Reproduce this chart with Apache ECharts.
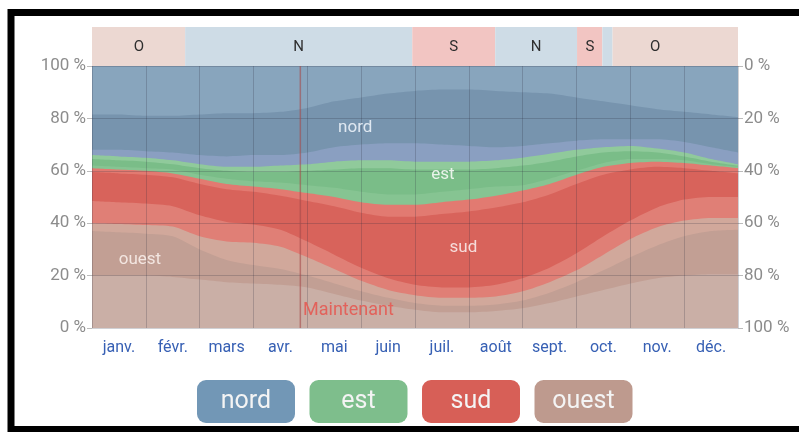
<!DOCTYPE html>
<html lang="fr">
<head>
<meta charset="utf-8">
<title>Direction du vent</title>
<script src="https://cdn.jsdelivr.net/npm/echarts@6/dist/echarts.min.js"></script>
<style>
  html, body { margin: 0; padding: 0; background: #fff; overflow: hidden; }
  #chart { width: 799px; height: 432px; }
</style>
</head>
<body>
<div id="chart"></div>
<script>
// libellés des mois
const months = ['janv.', 'févr.', 'mars', 'avr.', 'mai', 'juin', 'juil.', 'août', 'sept.', 'oct.', 'nov.', 'déc.']

// positions des points lus (en mois depuis le 1er janvier)
const pts = [0, 0.5, 1, 1.5, 2, 2.5, 3, 3.5, 4, 4.5, 5, 5.5, 6, 6.5, 7, 7.5, 8, 8.5, 9, 9.5, 10, 10.5, 11, 11.5, 12]

// limites cumulées (%) — du haut vers le bas
const nordCore  = [81.5, 81.5, 81, 81, 81.5, 82, 82, 82.5, 84, 86.5, 88, 89.5, 90.5, 91, 91, 90.5, 90, 89.5, 88, 86.5, 85, 83.5, 82.5, 81.5, 80.5]
const nordLow   = [68, 68, 67.5, 67, 66, 65.5, 66, 66, 67, 69, 70, 70.5, 70.5, 70, 69.5, 69, 69.5, 70.5, 71.5, 72, 72, 72, 71, 69, 67]
const estTop    = [66, 65.5, 65, 64, 62.5, 61.5, 61.5, 62, 62.5, 63.5, 64, 64, 63.5, 63.5, 63.5, 64, 65, 66.5, 68, 69, 69.5, 68.5, 67, 64.5, 62.5]
const estCore   = [64.5, 64, 63.5, 62.5, 61, 60, 59.5, 59.5, 60, 60.5, 61, 61, 60.5, 60.5, 60.5, 61, 62, 63.5, 65.5, 67, 67.5, 67, 65.5, 63.5, 62]
const estLow    = [62, 61.5, 61, 60.5, 58.5, 57, 56, 55.5, 54.5, 53.5, 52, 51, 51, 52, 53, 54, 54.5, 57, 60, 63, 64.5, 64.5, 64, 62.5, 61.5]
const sudTop    = [61, 60.5, 60, 59, 57, 55, 54, 53, 51.5, 50, 48, 47, 47, 48, 49, 50.5, 52.5, 55, 58.5, 61.5, 63, 63.5, 63, 62, 61]
const sudCore   = [59.5, 59, 58.5, 57.5, 55, 53, 52, 50.5, 48.5, 46.5, 44, 42.5, 42.5, 43.5, 44.5, 46, 48, 51, 55, 58.5, 60.5, 61.5, 61, 60, 59]
const sudLow    = [48.5, 48, 47.5, 46.5, 43, 40.5, 39.5, 37.5, 33, 28, 23, 19, 16.5, 15.5, 15.5, 16.5, 19, 23, 28.5, 35, 41, 46, 49, 50, 50]
const ouestTop  = [40, 39.7, 39.3, 38.7, 35, 33, 32.5, 31, 27, 22.5, 18, 14.5, 12.5, 11.5, 11.5, 12, 14, 17.5, 22, 28, 34, 38.5, 41, 42, 42]
const ouestCore = [37, 36.5, 36, 35, 30, 26, 24, 22.5, 20, 17, 14, 11.5, 9.5, 8.5, 8.5, 9, 10.5, 13.5, 17.5, 22, 27, 31.5, 35, 37, 37.5]
const ouestLow  = [20, 20, 20, 19.5, 18.5, 17.5, 17, 16.5, 15.5, 13, 10.5, 8.5, 7, 6, 6, 6.5, 7.5, 9.5, 12, 14.5, 17, 19, 20, 20.5, 20.5]

// bandeau de direction dominante
const bandDir   = ['O', 'N', 'S', 'N', 'S', 'N', 'O']
const bandStart = [0, 1.73, 5.95, 7.49, 9.01, 9.48, 9.67]
const bandEnd   = [1.73, 5.95, 7.49, 9.01, 9.48, 9.67, 12]
const bandLabel   = ['O', 'N', 'S', 'N', 'S', 'O']
const bandLabelAt = [0.87, 3.84, 6.72, 8.25, 9.25, 10.46]

// étiquettes dans le graphique
const plotLabel   = ['nord', 'est', 'sud', 'ouest', 'Maintenant']
const plotLabelAt = [[4.89, 76.5], [6.52, 58.5], [6.9, 30.5], [0.89, 26], [3.92, 6.5]]
const nowAt = 3.87

// légende
const dirNames = ['nord', 'est', 'sud', 'ouest']
const dirColors = ['#7297b6', '#7ebe8c', '#d75f57', '#be9a8e']

const bandColors = { O: '#ecd8d2', N: '#cedce6', S: '#f2c5c2' }
const labelColors = ['#dfe8f1', '#e9f4ea', '#f6dcda', '#f3e6e1', '#e2625b']

const layers = [
  { data: nordCore, color: '#7794ae' },
  { data: nordLow, color: '#8a9fc1' },
  { data: estTop, color: '#90ca9b' },
  { data: estCore, color: '#7abd88' },
  { data: estLow, color: '#86c492' },
  { data: sudTop, color: '#e27a71' },
  { data: sudCore, color: '#d8635b' },
  { data: sudLow, color: '#e07f76' },
  { data: ouestTop, color: '#d1a89b' },
  { data: ouestCore, color: '#c29f94' },
  { data: ouestLow, color: '#caafa6' }
]

const FONT = 'Roboto'

const chart = echarts.init(document.getElementById('chart'))

const areaSeries = layers.map((l, i) => ({
  type: 'line',
  xAxisIndex: 1,
  yAxisIndex: 0,
  data: pts.map((t, k) => [t, l.data[k]]),
  symbol: 'none',
  smooth: 0.25,
  silent: true,
  lineStyle: { width: 0 },
  areaStyle: { color: l.color, opacity: 1 },
  z: 2 + i
}))

const option = {
  animation: false,
  textStyle: { fontFamily: FONT },
  grid: [
    { left: 92, right: 61, top: 66, bottom: 104, show: true, backgroundColor: '#88a5bd', borderWidth: 0 },
    { left: 92, right: 61, top: 27, height: 39, show: false }
  ],
  xAxis: [
    {
      type: 'category',
      gridIndex: 0,
      data: months,
      boundaryGap: true,
      z: 30,
      axisLine: { show: false },
      axisTick: { show: false },
      axisLabel: { interval: 0, color: '#3760b4', fontSize: 16, margin: 12, fontFamily: FONT },
      splitLine: { show: true, lineStyle: { color: 'rgba(40, 40, 60, 0.22)', width: 1 } }
    },
    { type: 'value', gridIndex: 0, min: 0, max: 12, show: false },
    { type: 'value', gridIndex: 1, min: 0, max: 12, show: false }
  ],
  yAxis: [
    {
      type: 'value',
      gridIndex: 0,
      min: 0,
      max: 100,
      interval: 20,
      z: 30,
      axisLine: { show: false },
      axisTick: { show: true, length: 5, lineStyle: { color: '#bbbbbb' } },
      axisLabel: { formatter: '{value} %', color: '#8c8c8c', fontSize: 17, margin: 6, fontFamily: FONT },
      splitLine: { show: true, lineStyle: { color: 'rgba(40, 40, 60, 0.22)', width: 1 } }
    },
    {
      type: 'value',
      gridIndex: 0,
      position: 'right',
      inverse: true,
      min: 0,
      max: 100,
      interval: 20,
      axisLine: { show: false },
      axisTick: { show: true, length: 5, lineStyle: { color: '#bbbbbb' } },
      axisLabel: { formatter: '{value} %', color: '#8c8c8c', fontSize: 17, margin: 6, fontFamily: FONT },
      splitLine: { show: false }
    },
    { type: 'value', gridIndex: 1, min: 0, max: 1, show: false }
  ],
  series: [
    ...areaSeries,
    {
      // ligne "maintenant"
      type: 'custom',
      xAxisIndex: 1,
      yAxisIndex: 0,
      silent: true,
      z: 35,
      data: [[nowAt]],
      renderItem: (params, api) => {
        const top = api.coord([api.value(0), 100])
        const bottom = api.coord([api.value(0), 0])
        return {
          type: 'line',
          shape: { x1: top[0], y1: top[1], x2: bottom[0], y2: bottom[1] },
          style: { stroke: 'rgba(165, 75, 75, 0.6)', lineWidth: 1.5 }
        }
      }
    },
    {
      // étiquettes nord / est / sud / ouest / Maintenant
      type: 'custom',
      xAxisIndex: 1,
      yAxisIndex: 0,
      silent: true,
      z: 40,
      data: plotLabelAt.map((p, i) => [p[0], p[1], i]),
      renderItem: (params, api) => {
        const i = api.value(2)
        const p = api.coord([api.value(0), api.value(1)])
        const last = i === plotLabel.length - 1
        return {
          type: 'text',
          x: p[0],
          y: p[1],
          style: {
            text: plotLabel[i],
            align: last ? 'left' : 'center',
            verticalAlign: 'middle',
            fill: labelColors[i],
            font: (last ? '18px ' : '17px ') + FONT
          }
        }
      }
    },
    {
      // bandeau des directions
      type: 'custom',
      xAxisIndex: 2,
      yAxisIndex: 2,
      silent: true,
      data: bandStart.map((s, i) => [s, bandEnd[i], i]),
      encode: { x: [0, 1] },
      renderItem: (params, api) => {
        const a = api.coord([api.value(0), 0])
        const b = api.coord([api.value(1), 0])
        const cs = params.coordSys
        return {
          type: 'rect',
          shape: { x: a[0], y: cs.y, width: b[0] - a[0], height: cs.height },
          style: { fill: bandColors[bandDir[api.value(2)]] }
        }
      }
    },
    {
      type: 'custom',
      xAxisIndex: 2,
      yAxisIndex: 2,
      silent: true,
      z: 5,
      data: bandLabelAt.map((t, i) => [t, 0.5, i]),
      renderItem: (params, api) => {
        const p = api.coord([api.value(0), api.value(1)])
        return {
          type: 'text',
          x: p[0],
          y: p[1] + 1,
          style: {
            text: bandLabel[api.value(2)],
            align: 'center',
            verticalAlign: 'middle',
            fill: '#2e2e2e',
            font: '15px ' + FONT
          }
        }
      }
    }
  ],
  graphic: [
    ...dirNames.map((name, i) => ({
      type: 'group',
      left: 197 + i * 112.5,
      top: 380,
      children: [
        { type: 'rect', shape: { x: 0, y: 0, width: 98, height: 43, r: 9 }, style: { fill: dirColors[i] } },
        {
          type: 'text',
          x: 49,
          y: 22,
          style: { text: name, align: 'center', verticalAlign: 'middle', fill: '#f4f4f4', font: '25px ' + FONT }
        }
      ]
    })),
    // cadre
    {
      type: 'rect',
      z: 100,
      shape: { x: 11, y: 12.5, width: 840, height: 417 },
      style: { fill: 'none', stroke: '#000000', lineWidth: 7 }
    }
  ]
}

chart.setOption(option)
</script>
</body>
</html>
